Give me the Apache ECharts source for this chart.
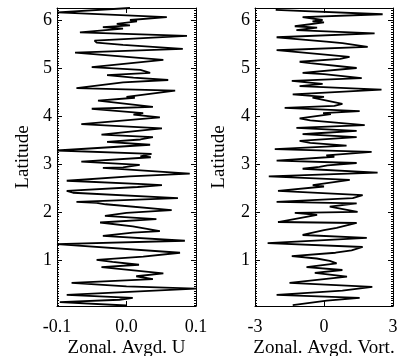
<!DOCTYPE html>
<html><head><meta charset="utf-8">
<script src="https://cdn.jsdelivr.net/npm/echarts@6/dist/echarts.min.js"></script>
<style>html,body{margin:0;padding:0;background:#fff}#c{width:399px;height:356px}</style>
</head><body><div id="c"></div>
<script>
// Left panel: Zonal. Avgd. U vs Latitude (top -> bottom)
const latU = [6.25,6.16,6.06,6.00,5.97,5.92,5.89,5.85,5.82,5.74,5.67,5.57,5.53,5.48,5.40,5.32,5.17,5.02,4.96,4.90,4.85,4.80,4.75,4.70,4.58,4.53,4.40,4.38,4.32,4.19,4.15,4.06,4.03,3.97,3.83,3.74,3.66,3.61,3.56,3.51,3.46,3.40,3.28,3.21,3.16,3.14,3.05,2.98,2.93,2.92,2.80,2.74,2.65,2.58,2.56,2.52,2.44,2.40,2.29,2.21,2.19,2.16,2.04,1.98,1.92,1.85,1.78,1.70,1.60,1.57,1.50,1.40,1.33,1.15,1.07,1.00,0.96,0.90,0.85,0.72,0.66,0.60,0.52,0.45,0.40,0.27,0.21,0.17,0.12,0.05];
const valU = [0.005,-0.099,0.058,0.005,0.015,-0.014,0.005,-0.034,-0.005,-0.067,0.087,-0.046,-0.043,-0.005,0.081,-0.074,0.053,-0.050,0.020,0.034,-0.028,0.010,0.060,-0.005,-0.072,0.070,0.000,0.012,-0.041,0.038,-0.050,0.024,0.010,0.048,-0.065,0.051,-0.005,-0.036,0.038,0.020,-0.028,0.034,-0.100,0.036,0.020,0.035,-0.065,0.019,-0.005,-0.034,0.091,0.005,-0.086,0.024,0.051,0.016,-0.086,-0.077,0.074,-0.072,-0.043,-0.030,0.065,0.000,-0.031,0.043,-0.038,0.009,0.048,0.009,-0.034,0.084,-0.100,0.077,0.024,-0.043,-0.020,0.018,-0.036,0.053,0.014,0.038,-0.079,0.000,0.100,-0.086,0.009,-0.010,-0.096,0.000];
// Right panel: Zonal. Avgd. Vort. vs Latitude (top -> bottom)
const latV = [6.21,6.20,6.12,6.06,6.00,5.97,5.95,5.87,5.84,5.79,5.72,5.64,5.55,5.52,5.44,5.37,5.23,5.19,5.13,5.10,5.00,4.90,4.87,4.79,4.73,4.67,4.62,4.55,4.45,4.40,4.38,4.25,4.21,4.17,4.10,4.06,4.04,3.95,3.91,3.81,3.75,3.69,3.64,3.62,3.56,3.48,3.44,3.38,3.31,3.25,3.18,3.15,3.07,3.02,2.97,2.94,2.90,2.82,2.74,2.67,2.56,2.53,2.44,2.35,2.29,2.21,2.18,2.11,2.00,1.98,1.94,1.79,1.77,1.67,1.62,1.52,1.46,1.35,1.27,1.20,1.15,1.08,1.03,0.98,0.93,0.85,0.79,0.73,0.65,0.52,0.44,0.36,0.27,0.21,0.15,0.06];
const valV = [-2.1,-1.6,2.55,-0.93,-0.06,-0.5,0.0,-1.27,-0.3,-1.2,2.2,-2.06,0.1,0.8,1.9,-2.06,1.11,0.7,-1.06,-0.6,1.42,-0.93,0.0,1.64,-1.4,-0.06,-1.06,2.5,-1.36,0.0,-0.5,0.8,0.45,-1.71,1.55,-0.04,0.3,-1.06,-0.6,1.77,-1.2,1.42,-0.3,-0.93,1.42,-1.06,-0.6,0.98,-2.14,2.07,0.1,0.45,-2.06,1.42,0.15,-0.2,-0.93,2.33,-2.4,1.12,-0.49,0.0,-2.0,1.68,1.25,-2.06,1.42,0.25,1.46,-1.27,-0.3,-2.0,1.42,0.55,0.0,-0.93,1.86,-2.45,1.68,1.2,0.5,-1.4,-0.32,0.25,0.55,-0.76,0.8,-0.4,1.0,-1.5,2.1,0.8,-2.06,1.55,0.12,-1.36];
const xTicksU = [-0.1, 0.1, 0.1]; // min, max, step
const xTicksV = [-3, 3, 3];
const latRange = [0.04, 6.25];

const FONT = 'Liberation Serif';
const chart = echarts.init(document.getElementById('c'), null, {renderer:'canvas'});
const pair = (la, va) => la.map((l, i) => [va[i], l]);

function xAx(grid, t, pos, name, dec) {
  return {
    type:'value', gridIndex:grid, position:pos, min:t[0], max:t[1], interval:t[2],
    name: pos==='bottom' ? name : '', nameLocation:'middle', nameGap:33, nameMoveOverlap:false,
    nameTextStyle:{fontFamily:FONT, fontSize:19, color:'#000'},
    axisLine:{show:true, onZero:false, lineStyle:{color:'#000', width:1}},
    axisTick:{show:true, inside:true, length:5, lineStyle:{color:'#000'}},
    axisLabel:{show: pos==='bottom', margin:12, fontFamily:FONT, fontSize:18, color:'#000',
      formatter:v => (Math.abs(v)<1e-9?0:v).toFixed(dec)},
    splitLine:{show:false}
  };
}
function yAx(grid, pos, gap) {
  return {
    type:'value', gridIndex:grid, position:pos, min:latRange[0], max:latRange[1], splitNumber:6,
    name: pos==='left' ? 'Latitude' : '', nameLocation:'middle', nameGap:gap, nameMoveOverlap:false,
    nameTextStyle:{fontFamily:FONT, fontSize:19, color:'#000'},
    axisLine:{show:true, onZero:false, lineStyle:{color:'#000', width:1}},
    axisTick:{show:true, inside:true, length:5, lineStyle:{color:'#000'}},
    minorTick:{show:true, splitNumber:20, length:2, lineStyle:{color:'#000'}},
    axisLabel:{show: pos==='left', margin:5, showMinLabel:false, showMaxLabel:false,
      fontFamily:FONT, fontSize:18, color:'#000', formatter:v => String(Math.round(v))},
    splitLine:{show:false}
  };
}
const option = {
  animation:false,
  backgroundColor:'#fff',
  grid:[
    {left:57, right:203, top:8, bottom:50, containLabel:false, outerBoundsMode:'none'},
    {left:255, right:6, top:8, bottom:50, containLabel:false, outerBoundsMode:'none'}
  ],
  xAxis:[
    xAx(0, xTicksU, 'bottom', 'Zonal. Avgd. U', 1),
    xAx(0, xTicksU, 'top', '', 1),
    xAx(1, xTicksV, 'bottom', 'Zonal. Avgd. Vort.', 0),
    xAx(1, xTicksV, 'top', '', 0)
  ],
  yAxis:[
    yAx(0, 'left', 24),
    yAx(0, 'right', 0),
    yAx(1, 'left', 26),
    yAx(1, 'right', 0)
  ],
  series:[
    {type:'line', xAxisIndex:0, yAxisIndex:0, data:pair(latU, valU), showSymbol:false, symbol:'none',
     lineStyle:{color:'#000', width:1.8}, silent:true},
    {type:'line', xAxisIndex:2, yAxisIndex:2, data:pair(latV, valV), showSymbol:false, symbol:'none',
     lineStyle:{color:'#000', width:1.8}, silent:true}
  ]
};
chart.setOption(option);
</script></body></html>
